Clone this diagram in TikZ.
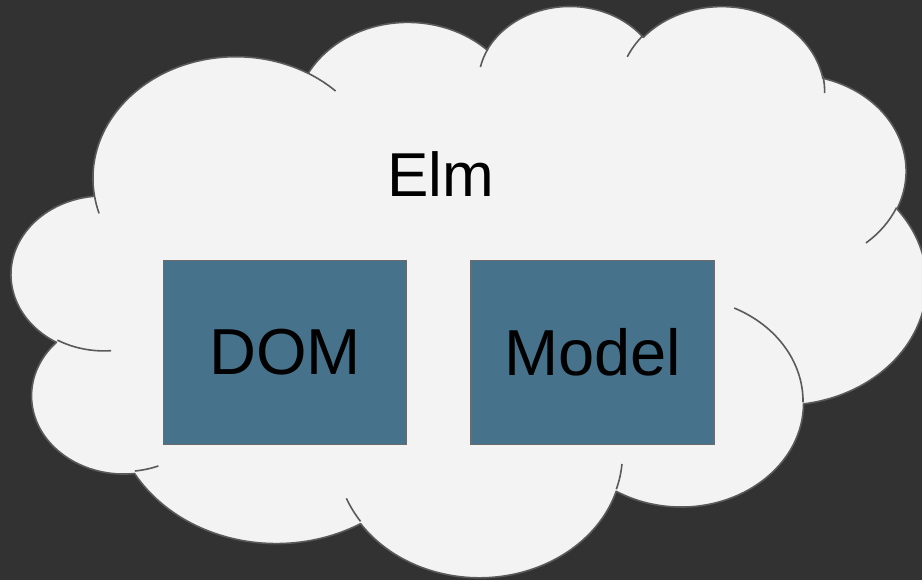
\documentclass[tikz,border=0pt]{standalone}
\usepackage{fontspec}
\setmainfont{Liberation Sans}
\begin{document}
\begin{tikzpicture}[x=1pt,y=-1pt]
\definecolor{board}{HTML}{323232}
\definecolor{cloudbg}{HTML}{F3F3F3}
\definecolor{cloudline}{HTML}{5A5A5A}
\definecolor{boxfill}{HTML}{46728B}
\definecolor{boxline}{HTML}{6B6B6B}
\tikzset{
  % elliptic arc given by radii, visual start angle and sweep
  lobe/.style n args={4}{x radius=#1, y radius=#2,
    start angle={atan2(#1*sin(#3),#2*cos(#3))},
    delta angle={mod(atan2(#1*sin(#3+#4),#2*cos(#3+#4))-atan2(#1*sin(#3),#2*cos(#3))+720,360)}},
  cloudedge/.style={draw=cloudline, line width=1.6pt, line join=round},
  box/.style={draw=boxline, line width=1.4pt, fill=boxfill, inner sep=0pt,
    minimum width=243pt, minimum height=184pt,
    font=\fontsize{65}{78}\selectfont},
}
% board
\fill[board] (0,0) rectangle (922,580);
\useasboundingbox (0,0) rectangle (922,580);

% cloud
\begin{scope}[shift={(11.7,4.6)}, x=2.117pt, y=-1.322pt]
\filldraw[cloudedge, fill=cloudbg] (39.00,143.70)
  arc[lobe={67.53}{91.90}{-190.48748}{123.78053}]
  arc[lobe={53.33}{72.67}{-144.10238}{89.94523}]
  arc[lobe={43.65}{59.45}{-145.80792}{99.72302}]
  arc[lobe={48.57}{65.95}{-130.98607}{117.24173}]
  arc[lobe={53.33}{72.73}{-78.70888}{109.02692}]
  arc[lobe={67.75}{92.20}{-46.26725}{130.26900}]
  arc[lobe={57.85}{78.67}{0.62502}{114.03333}]
  arc[lobe={67.52}{92.15}{22.45160}{115.17255}]
  arc[lobe={77.20}{105.43}{66.24263}{75.71102}]
  arc[lobe={43.60}{59.18}{-274.94208}{146.73557}]
  arc[lobe={43.45}{59.45}{-246.82850}{152.51885}]
  -- cycle;
\draw[cloudedge] (46.93,261.77) arc[lobe={43.45}{59.45}{86.74200}{26.42950}];
\draw[cloudedge] (69.28,348.99) arc[lobe={43.60}{59.18}{73.61047}{11.44747}];
\draw[cloudedge] (164.78,390.90) arc[lobe={67.52}{92.15}{137.62415}{14.08110}];
\draw[cloudedge] (288.27,347.51) arc[lobe={67.52}{92.15}{6.45327}{15.99835}];
\draw[cloudedge] (341.29,229.54) arc[lobe={57.85}{78.67}{-70.29235}{70.91737}];
\draw[cloudedge] (417.98,153.54) arc[lobe={53.33}{72.73}{30.31803}{27.75150}];
\draw[cloudedge] (383.24,54.26) arc[lobe={48.57}{65.95}{-13.74433}{14.85890}];
\draw[cloudedge] (290.78,39.52) arc[lobe={48.57}{65.95}{-149.18145}{18.19537}];
\draw[cloudedge] (221.41,47.20) arc[lobe={43.65}{59.45}{-163.49427}{17.68635}];
\draw[cloudedge] (140.00,51.92) arc[lobe={67.53}{91.90}{-66.70695}{12.31935}];
\draw[cloudedge] (41.27,157.89) arc[lobe={67.53}{91.90}{157.65435}{11.85817}];
\end{scope}

% labels and boxes
\node[font=\fontsize{62}{74}\selectfont] (elm) at (441,174) {Elm};
\node[box] (dom) at (285,352.5) {DOM};
\node[box] (model) at (592.6,352.5) {Model};
\end{tikzpicture}
\end{document}
